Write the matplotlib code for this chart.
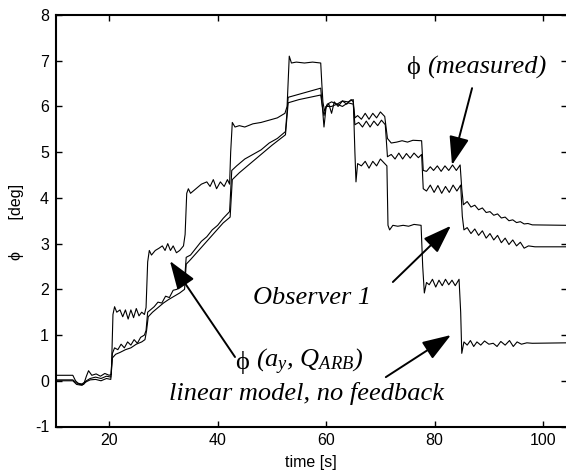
import matplotlib
matplotlib.use("Agg")
import matplotlib.pyplot as plt

plt.rcParams["mathtext.fontset"] = "custom"
plt.rcParams["mathtext.rm"] = "Liberation Serif"
plt.rcParams["mathtext.it"] = "Liberation Serif:italic"
plt.rcParams["axes.unicode_minus"] = False

# phi from linear model (a_y, Q_ARB), no feedback
t_lin = [10.2, 13.3, 13.8, 14.5, 15.3, 15.8, 16.2, 16.8, 17.6, 18.4, 19.2, 20.0, 20.4,
         20.7, 21.0, 21.4, 22.0, 22.5, 23.0, 23.5, 24.0, 24.5, 25.0, 25.5, 26.0, 26.5,
         26.8, 27.1, 27.4, 27.8, 28.5, 29.2, 29.8, 30.3, 30.8, 31.3, 31.8, 32.4, 33.0, 33.7,
         34.0, 34.3, 34.6, 35.0, 36.0, 37.0, 38.0, 38.6, 39.2, 39.8, 40.5, 41.2, 41.8, 42.2,
         42.4, 42.7, 43.2, 44.0, 45.0, 46.5, 48.0, 49.5, 51.0, 52.4,
         52.8, 53.2, 53.6, 54.5, 56.0, 57.5, 59.0, 59.2,
         59.4, 59.7, 60.2, 61.0, 62.0, 63.0, 64.0, 65.0,
         65.3, 65.5, 65.8, 66.5, 67.2, 67.9, 68.6, 69.3, 70.0, 70.8, 71.2,
         71.4, 71.7, 72.3, 73.2, 74.2, 75.2, 76.2, 77.5,
         77.8, 78.1, 78.5, 79.0, 79.6, 80.2, 80.8, 81.4, 82.0, 82.6, 83.2, 83.8, 84.5,
         84.8, 85.0, 85.4, 86.0, 86.6, 87.2, 87.8, 88.5, 89.2, 90.0, 90.8, 91.5, 92.2,
         93.0, 93.8, 94.5, 95.2, 96.0, 97.0, 98.0, 104.4]
y_lin = [0.12, 0.12, 0.0, -0.08, -0.08, 0.1, 0.22, 0.12, 0.15, 0.1, 0.16, 0.12, 0.14,
         1.45, 1.62, 1.5, 1.55, 1.4, 1.55, 1.35, 1.55, 1.38, 1.58, 1.42, 1.5, 1.45,
         1.6, 2.6, 2.85, 2.75, 2.85, 2.9, 2.95, 2.85, 3.0, 2.85, 2.95, 2.8, 2.85, 2.95,
         3.2, 4.1, 4.2, 4.1, 4.2, 4.3, 4.35, 4.25, 4.4, 4.2, 4.35, 4.25, 4.4, 4.3,
         5.0, 5.65, 5.55, 5.58, 5.55, 5.62, 5.65, 5.7, 5.75, 5.85,
         6.0, 7.1, 6.95, 6.97, 6.95, 6.97, 6.95, 6.5,
         6.1, 5.9, 6.05, 6.1, 6.05, 6.12, 6.1, 6.15,
         5.0, 4.35, 4.75, 4.7, 4.8, 4.65, 4.8, 4.7, 4.85, 4.75, 4.7,
         3.4, 3.3, 3.4, 3.38, 3.4, 3.38, 3.42, 3.4,
         2.5, 1.92, 2.15, 2.1, 2.22, 2.05, 2.2, 2.08, 2.22, 2.1, 2.2, 2.08, 2.22,
         1.5, 0.6, 0.85, 0.78, 0.88, 0.75, 0.85, 0.78, 0.87, 0.8, 0.82, 0.75, 0.86,
         0.78, 0.88, 0.75, 0.85, 0.8, 0.83, 0.82, 0.83]

# phi measured
t_meas = [10.2, 13.3, 14.0, 15.0, 15.8, 16.5, 17.5, 18.5, 19.5, 20.3,
          20.6, 21.0, 21.6, 22.2, 22.8, 23.4, 24.0, 24.6, 25.2, 25.8, 26.5,
          26.8, 27.1, 27.6, 28.3, 29.0, 29.7, 30.4, 31.1, 31.8, 32.5, 33.2, 33.9,
          34.2, 35.0, 36.0, 37.0, 38.0, 39.0, 40.0, 41.0, 42.2,
          42.6, 43.5, 45.0, 46.5, 48.0, 49.5, 51.0, 52.5,
          53.0, 54.5, 56.0, 57.5, 59.0,
          59.3, 59.6, 60.0, 60.5, 61.0, 61.5, 62.2, 63.0, 63.8, 64.6, 65.0,
          65.3, 65.8, 66.5, 67.2, 67.9, 68.6, 69.3, 70.0, 70.8,
          71.3, 72.0, 73.0, 74.0, 75.0, 76.0, 77.6,
          77.9, 78.5, 79.2, 79.8, 80.5, 81.2, 81.9, 82.6, 83.3, 84.0, 84.7,
          85.0, 85.3, 86.0, 86.7, 87.4, 88.1, 88.8, 89.5, 90.2, 90.9, 91.6, 92.3,
          93.0, 93.7, 94.4, 95.1, 95.8, 96.5, 97.2, 98.0, 104.4]
y_meas = [0.02, 0.02, -0.05, -0.07, 0.0, 0.05, 0.08, 0.05, 0.1, 0.08,
          0.6, 0.72, 0.68, 0.8, 0.72, 0.85, 0.78, 0.9, 0.82, 0.95, 1.0,
          1.1, 1.5, 1.55, 1.62, 1.72, 1.7, 1.85, 1.82, 1.98, 2.0, 2.1, 2.2,
          2.7, 2.75, 2.9, 3.05, 3.15, 3.3, 3.4, 3.55, 3.7,
          4.6, 4.7, 4.85, 4.95, 5.05, 5.2, 5.3, 5.45,
          6.2, 6.25, 6.3, 6.35, 6.4,
          6.0, 5.55, 6.0, 6.05, 5.85, 6.1, 6.0, 6.12, 6.05, 6.15, 6.1,
          5.75, 5.8, 5.72, 5.85, 5.72, 5.85, 5.75, 5.88, 5.78,
          5.3, 5.2, 5.22, 5.25, 5.22, 5.26, 5.25,
          4.6, 4.58, 4.68, 4.6, 4.7, 4.58, 4.7, 4.6, 4.72, 4.6, 4.72,
          4.2, 3.85, 3.92, 3.8, 3.84, 3.74, 3.78, 3.68, 3.7, 3.62, 3.65, 3.56,
          3.58, 3.5, 3.52, 3.46, 3.48, 3.43, 3.44, 3.41, 3.4]

# phi from Observer 1
t_obs = [10.2, 13.3, 14.0, 15.0, 15.8, 16.5, 17.5, 18.5, 19.5, 20.3,
         20.6, 21.2, 22.0, 23.0, 24.0, 25.0, 26.0, 26.6,
         26.9, 27.2, 28.0, 29.0, 30.0, 31.0, 32.0, 33.0, 33.9,
         34.2, 35.0, 36.5, 38.0, 39.5, 41.0, 42.3,
         42.7, 44.0, 46.0, 48.0, 50.0, 52.5,
         53.0, 55.0, 57.0, 59.0,
         59.3, 59.6, 60.0, 61.0, 62.0, 63.0, 64.0, 65.0,
         65.3, 66.0, 66.7, 67.4, 68.1, 68.8, 69.5, 70.2, 70.9,
         71.3, 72.0, 72.7, 73.4, 74.1, 74.8, 75.5, 76.2, 77.0, 77.6,
         77.9, 78.5, 79.2, 79.9, 80.6, 81.3, 82.0, 82.7, 83.4, 84.1, 84.8,
         85.1, 85.4, 86.0, 86.7, 87.4, 88.1, 88.8, 89.5, 90.2, 90.9, 91.6, 92.3,
         93.0, 93.7, 94.4, 95.1, 95.8, 96.5, 97.3, 98.5, 104.4]
y_obs = [0.0, 0.0, -0.08, -0.1, -0.02, 0.02, 0.03, 0.0, 0.05, 0.03,
         0.5, 0.58, 0.62, 0.68, 0.72, 0.8, 0.85, 0.9,
         1.1, 1.4, 1.5, 1.6, 1.7, 1.78, 1.85, 1.92, 2.0,
         2.55, 2.65, 2.85, 3.05, 3.25, 3.45, 3.58,
         4.4, 4.55, 4.75, 4.95, 5.15, 5.38,
         6.08, 6.15, 6.2, 6.25,
         6.0, 5.8, 6.0, 6.0, 6.05, 6.0, 6.08, 6.05,
         5.6, 5.65, 5.55, 5.68, 5.55, 5.68, 5.58, 5.7, 5.6,
         4.9, 4.95, 4.85, 4.98, 4.85, 4.97, 4.87, 4.98, 4.88, 4.95,
         4.2, 4.15, 4.28, 4.12, 4.27, 4.1, 4.25, 4.12, 4.28, 4.15, 4.28,
         3.6, 3.3, 3.35, 3.22, 3.32, 3.18, 3.28, 3.12, 3.22, 3.08, 3.18, 3.02,
         3.12, 2.98, 3.08, 2.95, 3.03, 2.9, 2.95, 2.93, 2.93]

x_ticks = [20, 40, 60, 80, 100]
y_ticks = [-1, 0, 1, 2, 3, 4, 5, 6, 7, 8]

sans = ["Liberation Sans", "DejaVu Sans"]
serif = ["Liberation Serif", "DejaVu Serif"]

fig = plt.figure(figsize=(5.66, 4.74), dpi=100)
ax = fig.add_axes([56 / 566, 47.5 / 474, 511 / 566, 411.5 / 474])

for t, y in [(t_lin, y_lin), (t_meas, y_meas), (t_obs, y_obs)]:
    ax.plot(t, y, color="black", lw=0.8)

ax.set_xlim(10.2, 104.4)
ax.set_ylim(-1, 8)
ax.set_xticks(x_ticks)
ax.set_yticks(y_ticks)
ax.tick_params(direction="in", length=4, width=1, top=True, right=True,
               labelsize=11.5, pad=5)
for lab in ax.get_xticklabels() + ax.get_yticklabels():
    lab.set_family(sans)
for s in ["left", "bottom", "top"]:
    ax.spines[s].set_linewidth(1.5)
ax.spines["right"].set_visible(False)

fig.text(17 / 566, 1 - 222 / 474, "\u03d5       [deg]", rotation=90,
         ha="center", va="center", fontsize=11.5, family=sans)
fig.text(311 / 566, 1 - 463 / 474, "time [s]", ha="center", va="center",
         fontsize=11.5, family=sans)

# annotations
fs = 19
ax.text(77.3, 6.86, "\u03d5", ha="right", va="center", fontsize=fs, family=serif)
ax.text(78.6, 6.86, "(measured)", ha="left", va="center", fontsize=fs,
        family=serif, style="italic")
ax.text(57.4, 1.81, "Observer 1", ha="center", va="center", fontsize=fs,
        family=serif, style="italic")
ax.text(45.8, 0.41, "\u03d5", ha="right", va="center", fontsize=fs, family=serif)
ax.text(47.0, 0.41, "($a_y$, $Q_{ARB}$)", ha="left", va="center", fontsize=fs,
        family=serif, style="italic")
ax.text(56.3, -0.27, "linear model, no feedback", ha="center", va="center",
        fontsize=fs, family=serif, style="italic")

arrows = [((83.2, 4.72), (86.9, 6.40)),
          ((83.0, 3.39), (72.3, 2.16)),
          ((31.2, 2.62), (43.2, 0.52)),
          ((83.0, 1.00), (71.0, 0.08))]
for tip, tail in arrows:
    ax.annotate("", xy=tip, xytext=tail,
                arrowprops=dict(arrowstyle="-|>,head_length=0.8,head_width=0.28",
                                mutation_scale=22, lw=1.4, color="black",
                                shrinkA=0, shrinkB=0))

fig.savefig("out.png", dpi=100)
